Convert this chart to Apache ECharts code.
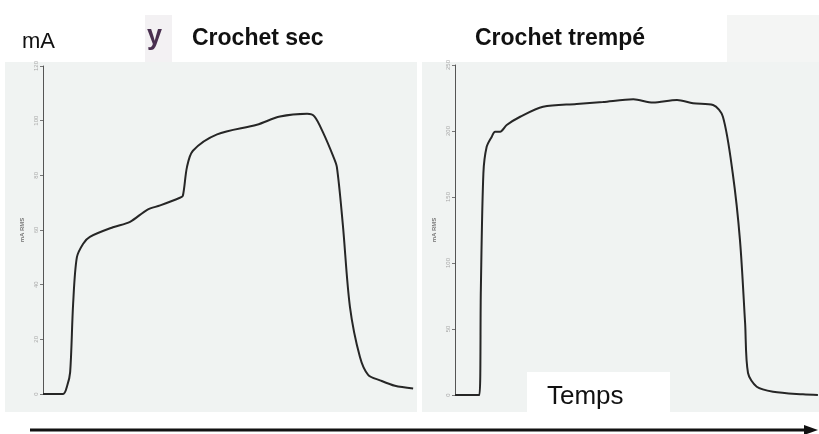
<!DOCTYPE html>
<html lang='fr'>
<head>
  <meta charset='UTF-8'>
  <title>Crochet sec / Crochet trempé</title>
  <script src="https://cdn.jsdelivr.net/npm/echarts@6/dist/echarts.min.js"></script>
  <style>
    html, body { margin: 0; padding: 0; background: #fff; }
    #chart { width: 819px; height: 434px; }
  </style>
</head>
<body>
  <div id="chart"></div>
  <script>
    // temps (0..100, unité arbitraire) et courant en mA RMS
    const secTime = [0, 5.4, 6.5, 7.3, 8.1, 9.1, 10.8, 12.6, 18.8, 23.4, 28, 31.5, 36.8, 37.6, 38.7, 40.3, 46.8, 57.5, 63.7, 71, 73, 75.3, 78, 79, 80.6, 82.5, 85.2, 87.4, 90.6, 94.6, 99.5]
    const secValues = [0, 0, 3, 8, 33, 50, 55, 57.5, 61, 63, 67.4, 69, 71.8, 72.5, 83, 89, 95, 98.5, 101.5, 102.5, 101.5, 95.6, 87, 83, 62, 32, 13.5, 7, 5, 3, 2]

    const trempeTime = [0, 6.7, 7.1, 7.8, 8.7, 10.1, 11, 12.4, 14.2, 17.9, 24.2, 33.4, 40.6, 49, 54.4, 61, 65.4, 70.9, 73.6, 76.3, 78.3, 79.7, 80.5, 82.9, 87.4, 95.6, 99.7]
    const trempeValues = [0, 0, 79.5, 168, 188, 195.7, 199.5, 199.5, 204.5, 210.8, 218.4, 220.5, 222, 224, 221.5, 223.5, 221, 219.7, 210.8, 168, 117, 54.5, 16.7, 6.3, 2.5, 0.5, 0]

    const secTicks = { min: 0, max: 120, interval: 20 }
    const trempeTicks = { min: 0, max: 250, interval: 50 }

    const chart = echarts.init(document.getElementById('chart'), null, { renderer: 'canvas' })

    const yAxisStyle = {
      type: 'value',
      name: 'mA RMS',
      nameLocation: 'middle',
      nameGap: 18,
      nameTextStyle: { fontSize: 6, color: '#777', fontWeight: 'bold' },
      axisLine: { show: true, lineStyle: { color: '#555', width: 1 } },
      axisTick: { show: true, length: 3, lineStyle: { color: '#777' } },
      axisLabel: { fontSize: 6, color: '#aaa', rotate: 90, margin: 4 },
      splitLine: { show: false }
    }

    const lineStyle = { color: '#262626', width: 2 }
    const font = '"Liberation Sans", Arial, sans-serif'

    chart.setOption({
      backgroundColor: '#fff',
      animation: false,
      grid: [
        { left: 43, top: 66, width: 372, height: 328 },
        { left: 455, top: 65, width: 364, height: 330 }
      ],
      xAxis: [
        { gridIndex: 0, type: 'value', min: 0, max: 100, show: false },
        { gridIndex: 1, type: 'value', min: 0, max: 100, show: false }
      ],
      yAxis: [
        Object.assign({ gridIndex: 0 }, yAxisStyle, secTicks),
        Object.assign({ gridIndex: 1 }, yAxisStyle, trempeTicks)
      ],
      series: [
        {
          type: 'line', xAxisIndex: 0, yAxisIndex: 0, showSymbol: false, smooth: 0.3,
          lineStyle: lineStyle,
          data: secTime.map((t, i) => [t, secValues[i]])
        },
        {
          type: 'line', xAxisIndex: 1, yAxisIndex: 1, showSymbol: false, smooth: 0.3,
          lineStyle: lineStyle,
          data: trempeTime.map((t, i) => [t, trempeValues[i]])
        }
      ],
      graphic: [
        // fonds des deux captures
        { type: 'rect', z: -10, shape: { x: 5, y: 62, width: 412, height: 350 }, style: { fill: '#f0f3f2' } },
        { type: 'rect', z: -10, shape: { x: 422, y: 62, width: 397, height: 350 }, style: { fill: '#f0f3f2' } },
        { type: 'rect', z: -9, shape: { x: 145, y: 15, width: 27, height: 47 }, style: { fill: '#f3f1f3' } },
        { type: 'rect', z: -9, shape: { x: 727, y: 15, width: 92, height: 47 }, style: { fill: '#f4f5f4' } },
        // titres
        { type: 'text', z: 10, left: 22, top: 31, style: { text: 'mA', font: '22px ' + font, fill: '#111' } },
        { type: 'text', z: 10, left: 147, top: 23, style: { text: 'y', font: 'bold 27px ' + font, fill: '#4a3050' } },
        { type: 'text', z: 10, left: 192, top: 27, style: { text: 'Crochet sec', font: 'bold 23px ' + font, fill: '#111' } },
        { type: 'text', z: 10, left: 475, top: 27, style: { text: 'Crochet trempé', font: 'bold 23px ' + font, fill: '#111' } },
        // étiquette Temps
        { type: 'rect', z: 10, shape: { x: 527, y: 372, width: 143, height: 40 }, style: { fill: '#fff' } },
        { type: 'text', z: 11, left: 547, top: 384, style: { text: 'Temps', font: '26px ' + font, fill: '#111' } },
        // flèche du temps
        { type: 'line', z: 10, shape: { x1: 30, y1: 430, x2: 808, y2: 430 }, style: { stroke: '#111', lineWidth: 3 } },
        { type: 'polygon', z: 10, shape: { points: [[804, 425], [818, 430], [804, 435]] }, style: { fill: '#111' } }
      ]
    })
  </script>
</body>
</html>
